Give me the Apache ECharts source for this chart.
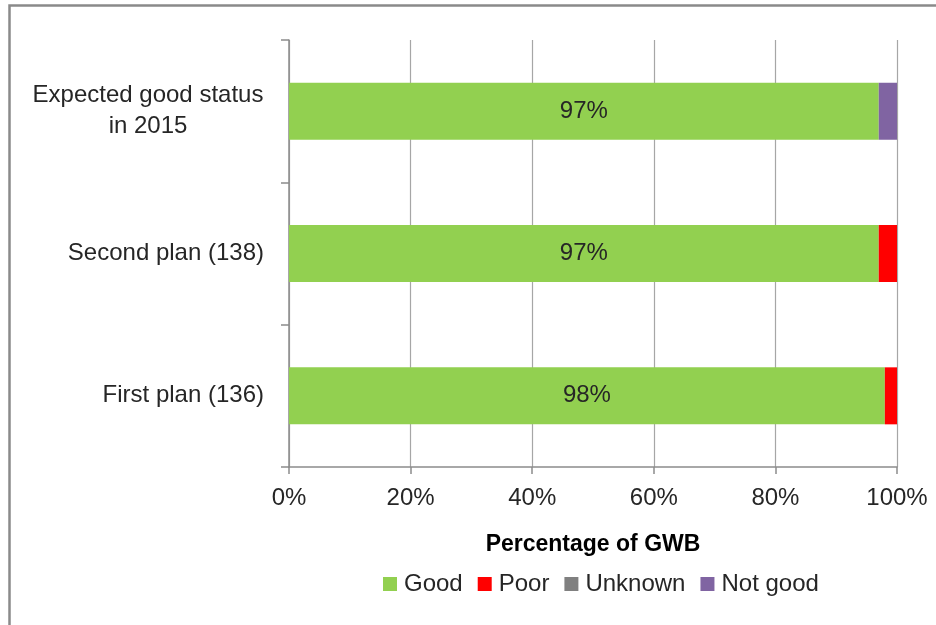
<!DOCTYPE html>
<html>
<head>
<meta charset="utf-8">
<script src="https://cdn.jsdelivr.net/npm/echarts@6/dist/echarts.min.js"></script>
<style>html,body{margin:0;padding:0;background:#fff;}#c{width:936px;height:625px;}</style>
</head>
<body>
<div id="c"></div>
<script>
var categories = ['First plan (136)', 'Second plan (138)', 'Expected good status\nin 2015'];
var seriesNames = ['Good', 'Poor', 'Unknown', 'Not good'];
var good = [98, 97, 97];
var poor = [2, 3, 0];
var unknown = [0, 0, 0];
var notGood = [0, 0, 3];
var xTicks = [0, 20, 40, 60, 80, 100];

var FONT = 'Liberation Sans';
var FS = 24;
var colors = ['#92D050', '#FF0000', '#808080', '#8064A2'];
var values = [good, poor, unknown, notGood];

var chart = echarts.init(document.getElementById('c'));
var series = seriesNames.map(function (n, i) {
  var s = {
    name: n,
    type: 'bar',
    stack: 'total',
    barWidth: 57,
    data: values[i],
    itemStyle: { color: colors[i] },
    emphasis: { disabled: true }
  };
  if (i === 0) {
    s.label = {
      show: true,
      position: 'inside',
      formatter: '{c}%',
      fontFamily: FONT,
      fontSize: FS,
      color: '#262626'
    };
  }
  return s;
});

chart.setOption({
  animation: false,
  textStyle: { fontFamily: FONT },
  graphic: [{
    type: 'rect',
    shape: { x: 9.5, y: 5.5, width: 1200, height: 1200 },
    style: { fill: 'none', stroke: '#8a8a8a', lineWidth: 2.5 },
    silent: true
  }],
  grid: { left: 289, right: 39, top: 40, bottom: 158 },
  legend: {
    data: seriesNames,
    top: 567,
    left: 378,
    itemWidth: 14,
    itemHeight: 14,
    itemGap: 15,
    icon: 'rect',
    textStyle: { fontFamily: FONT, fontSize: FS, color: '#262626', padding: [0, 0, 0, 2] }
  },
  xAxis: {
    type: 'value',
    min: 0,
    max: 100,
    interval: 20,
    name: 'Percentage of GWB',
    nameLocation: 'middle',
    nameGap: 66,
    nameTextStyle: { fontFamily: FONT, fontSize: 23, fontWeight: 'bold', color: '#000' },
    axisLine: { show: true, lineStyle: { color: '#8c8c8c', width: 1.5 } },
    axisTick: { show: true, length: 7, lineStyle: { color: '#8c8c8c', width: 1.5 } },
    axisLabel: {
      margin: 19,
      fontFamily: FONT,
      fontSize: FS,
      color: '#262626',
      formatter: function (v) { return xTicks.indexOf(v) >= 0 ? v + '%' : ''; }
    },
    splitLine: { show: true, lineStyle: { color: '#a6a6a6', width: 1.2 } }
  },
  yAxis: {
    type: 'category',
    data: categories,
    axisLine: { show: true, lineStyle: { color: '#8c8c8c', width: 1.5 } },
    axisTick: { show: true, length: 8, lineStyle: { color: '#8c8c8c', width: 1.5 } },
    axisLabel: {
      margin: 25,
      fontFamily: FONT,
      fontSize: FS,
      color: '#262626',
      lineHeight: 31,
      formatter: function (v) {
        if (v.indexOf('\n') >= 0) {
          return v.split('\n').map(function (s) { return '{c|' + s + '}'; }).join('\n');
        }
        return v;
      },
      rich: {
        c: { width: 232, align: 'center', fontFamily: FONT, fontSize: FS, color: '#262626', lineHeight: 31 }
      }
    }
  },
  series: series
});
</script>
</body>
</html>
